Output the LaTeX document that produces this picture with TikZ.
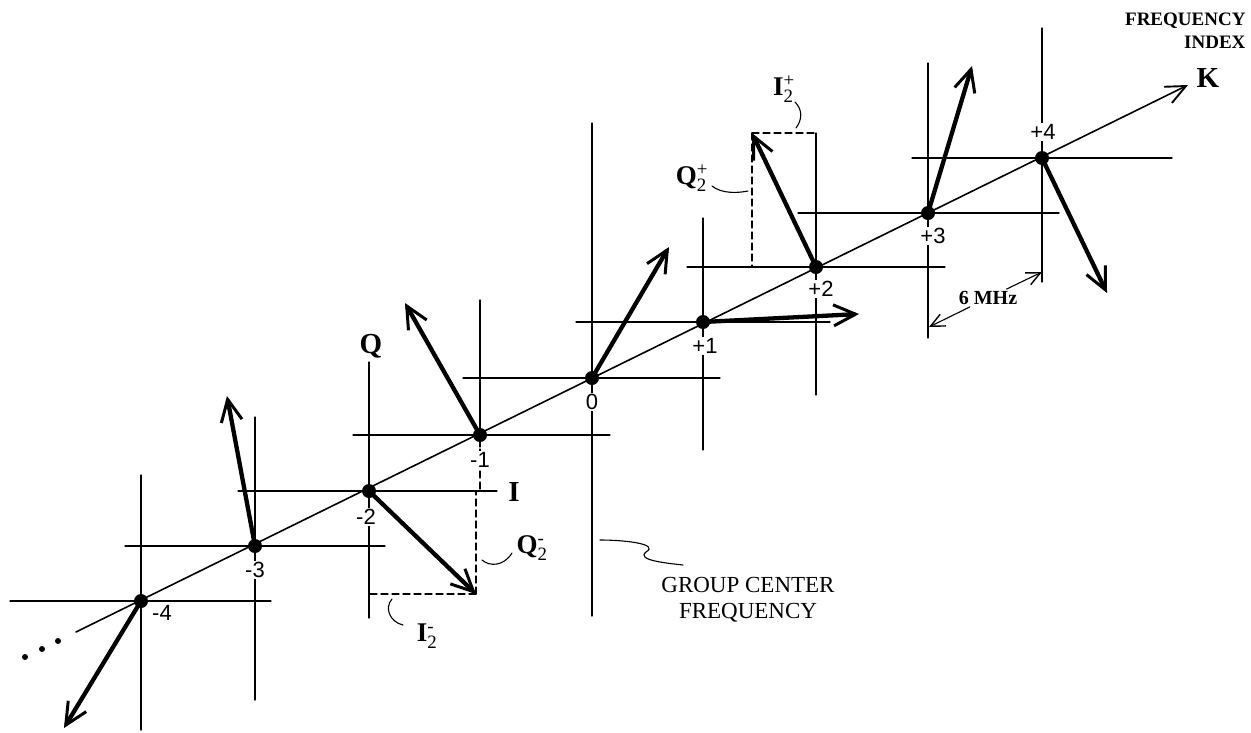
\documentclass[tikz,border=0pt]{standalone}
\usepackage{amsmath}
\usepackage{fontspec}
\setmainfont{Liberation Serif}
\newfontfamily\numfont{Liberation Sans}
\usepackage{tikz}
\usetikzlibrary{arrows.meta}
\usetikzlibrary{calc}
\usetikzlibrary{positioning}

\tikzset{
  gridline/.style={line width=1.3},
  vec/.style={line width=4.3, -{Straight Barb[length=22pt,width=21pt,line width=3pt]}},
  proj/.style={line width=1.3, dash pattern=on 7pt off 4pt},
  lead/.style={line width=1.1},
  dot/.style={circle, fill, inner sep=0pt, minimum size=14pt},
  idx/.style={font=\numfont\fontsize{22}{22}\selectfont, fill=white, inner sep=1pt},
  axlab/.style={font=\bfseries\fontsize{29}{29}\selectfont},
  complab/.style={font=\fontsize{27}{27}\selectfont},
}
\newcommand{\cmplab}[2]{\textbf{#1}$^{\text{#2}}_{\text{2}}$}

\begin{document}
\begin{tikzpicture}[x=1pt, y=-1pt, line cap=round, line join=round]
\useasboundingbox (0,0) rectangle (1251,732);

% Points of the frequency index
\coordinate (km4) at (141,601);
\coordinate (km3) at (255,546);
\coordinate (km2) at (369,491);
\coordinate (km1) at (480,435);
\coordinate (k0)  at (592,378);
\coordinate (kp1) at (703,322);
\coordinate (kp2) at (816,267);
\coordinate (kp3) at (928,213);
\coordinate (kp4) at (1042,158);

% Local I/Q axes at each point
\draw[gridline] ($(km4)+(-131,0)$) -- ($(km4)+(130,0)$);
\draw[gridline] ($(km4)+(0,-126)$) -- ($(km4)+(0,129)$);
\draw[gridline] ($(km3)+(-130,0)$) -- ($(km3)+(130,0)$);
\draw[gridline] ($(km3)+(0,-129)$) -- ($(km3)+(0,154)$);
\draw[gridline] ($(km1)+(-127,0)$) -- ($(km1)+(130,0)$);
\draw[gridline] ($(km1)+(0,-135)$) -- ($(km1)+(0,12)$);
\draw[proj] ($(km1)+(0,14)$) -- ($(km1)+(0,56)$);
\draw[gridline] ($(k0)+(-129,0)$) -- ($(k0)+(128,0)$);
\draw[gridline] ($(kp1)+(-127,0)$) -- ($(kp1)+(127,0)$);
\draw[gridline] ($(kp1)+(0,-104)$) -- ($(kp1)+(0,128)$);
\draw[gridline] ($(kp2)+(-129,0)$) -- ($(kp2)+(129,0)$);
\draw[gridline] ($(kp2)+(0,-134)$) -- ($(kp2)+(0,128)$);
\draw[gridline] ($(kp3)+(-130,0)$) -- ($(kp3)+(131,0)$);
\draw[gridline] ($(kp3)+(0,-150)$) -- ($(kp3)+(0,125)$);
\draw[gridline] ($(kp4)+(-130,0)$) -- ($(kp4)+(130,0)$);
\draw[gridline] ($(kp4)+(0,-130)$) -- ($(kp4)+(0,124)$);

% Group center frequency line
\draw[gridline] ($(k0)+(0,-255)$) -- ($(k0)+(0,238)$);

% I and Q axes of the -2 component
\coordinate (ileft) at (238,491);
\coordinate (iright) at (497,491);
\coordinate (qtop) at (369,362);
\coordinate (qbot) at (369,618);
\draw[gridline] (ileft) -- (iright);
\draw[gridline] (qtop) -- (qbot);
\node[axlab] (qlab) at (371,346) {Q};
\node[axlab] (ilab) at (514,492) {I};

% Frequency index axis
\coordinate (kstart) at (76,632);
\coordinate (kend) at (1188,85);
\draw[line width=1.6, -{Straight Barb[length=20pt,width=18pt,line width=1.9pt]}] (kstart) -- (kend);
\node[axlab] (klab) at (1208,78) {K};
\node[font=\bfseries\fontsize{19}{23}\selectfont, align=right, anchor=north east] (fidx) at (1249,9) {FREQUENCY\\INDEX};

% Dots beyond -4
\fill (25,657) circle (3);
\fill (42,649) circle (3);
\fill (58,641) circle (3);

% Projections of the +2 and -2 components
\coordinate (tp2) at (752,133);
\coordinate (tm2) at (476,594);
\draw[proj] (tp2) -- (tp2 |- kp2);
\draw[proj] (tp2) -- (tp2 -| kp2);
\draw[proj] (tm2) -- (tm2 |- km2);
\draw[proj] (tm2) -- (tm2 -| km2);

% Component vectors
\coordinate (tm4) at (64,728);
\coordinate (tm3) at (227,396);
\coordinate (tm1) at (405,303);
\coordinate (t0)  at (669,247);
\coordinate (tp1) at (859,314);
\coordinate (tp3) at (972,66);
\coordinate (tp4) at (1107,293);
\draw[vec] (km4) -- (tm4);
\draw[vec] (km3) -- (tm3);
\draw[vec] (km2) -- (tm2);
\draw[vec] (km1) -- (tm1);
\draw[vec] (k0) -- (t0);
\draw[vec] (kp1) -- (tp1);
\draw[vec] (kp2) -- (tp2);
\draw[vec] (kp3) -- (tp3);
\draw[vec] (kp4) -- (tp4);

% Points and their indices
\foreach \p in {km4,km3,km2,km1,k0,kp1,kp2,kp3,kp4}
  \node[dot] at (\p) {};
\node[idx] (lm4) at ($(km4)+(21,12)$) {-4};
\node[idx] (lm3) at ($(km3)+(0,24)$) {-3};
\node[idx] (lm2) at ($(km2)+(-3,26)$) {-2};
\node[idx] (lm1) at ($(km1)+(0,25)$) {-1};
\node[idx] (l0)  at ($(k0)+(0,24)$) {0};
\node[idx] (lp1) at ($(kp1)+(2,24)$) {+1};
\node[idx] (lp2) at ($(kp2)+(5,22)$) {+2};
\node[idx] (lp3) at ($(kp3)+(5,23)$) {+3};
\node[idx] (lp4) at ($(kp4)+(1,-26)$) {+4};

% Component labels with leaders
\node[complab] (ip2) at (784,89) {\cmplab{I}{+}};
\draw[lead] (795,102) .. controls (803,110) and (802,120) .. (796,128);
\node[complab] (qp2) at (692,178) {\cmplab{Q}{+}};
\draw[lead] (712,186) .. controls (722,194) and (738,193) .. (748,191);
\node[complab] (qm2) at (532,548) {\cmplab{Q}{-}};
\draw[lead] (482,560) .. controls (490,567) and (504,566) .. (512,553);
\node[complab] (im2) at (427,636) {\cmplab{I}{-}};
\draw[lead] (392,599) .. controls (384,608) and (390,622) .. (403,625);

% Group center frequency label
\draw[lead] (600,540) .. controls (625,540) and (660,544) .. (646,552)
  .. controls (636,560) and (665,563) .. (683,565);
\node[font=\fontsize{23}{26}\selectfont, align=center] (gcf) at (748,600) {GROUP CENTER\\FREQUENCY};

% Channel spacing
\coordinate (d3) at (929,327);
\coordinate (d4) at (1042,272);
\node[font=\bfseries\fontsize{20}{20}\selectfont, inner sep=2pt] (mhz) at (988,298) {6 MHz};
\draw[lead, -{Straight Barb[length=14pt,width=13pt,line width=1.4pt]}] (mhz) -- (d3);
\draw[lead, -{Straight Barb[length=14pt,width=13pt,line width=1.4pt]}] (mhz) -- (d4);

\end{tikzpicture}
\end{document}
